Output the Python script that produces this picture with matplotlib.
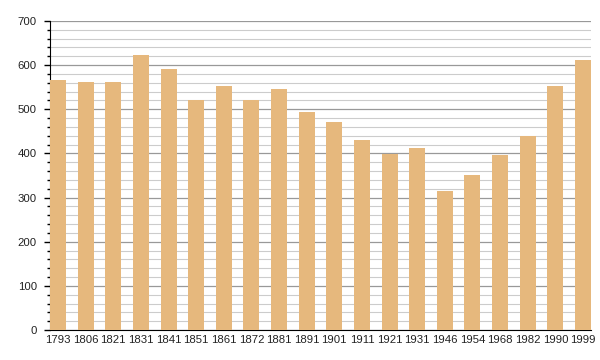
import matplotlib
matplotlib.use('Agg')
import matplotlib.pyplot as plt
from matplotlib.ticker import MultipleLocator

years = ['1793', '1806', '1821', '1831', '1841', '1851', '1861', '1872', '1881', '1891',
         '1901', '1911', '1921', '1931', '1946', '1954', '1968', '1982', '1990', '1999']
population = [566, 562, 562, 623, 591, 520, 553, 521, 546, 494,
              471, 430, 399, 412, 315, 351, 396, 440, 552, 612]

plt.rcParams['font.family'] = ['Liberation Sans', 'DejaVu Sans']

fig = plt.figure(figsize=(6, 3.6), dpi=100)
ax = fig.add_axes([50 / 600, 30 / 360, 541 / 600, 309 / 360])

x = list(range(len(years)))
bar_width = 0.58
ax.bar(x, population, width=bar_width, color='#E6B87D', zorder=3)

ax.set_xlim(-0.29, len(years) - 1 + 0.29)
ax.set_ylim(0, 700)
ax.set_xticks(x)
ax.set_xticklabels(years)
ax.yaxis.set_major_locator(MultipleLocator(100))
ax.yaxis.set_minor_locator(MultipleLocator(20))

ax.grid(axis='y', which='major', color='#999999', linewidth=0.9, zorder=0)
ax.grid(axis='y', which='minor', color='#cccccc', linewidth=0.8, zorder=0)
ax.set_axisbelow(True)

for side in ['top', 'right']:
    ax.spines[side].set_visible(False)
ax.spines['left'].set_color('black')
ax.spines['bottom'].set_color('black')
ax.tick_params(axis='x', length=0, labelsize=8.2, pad=3.5, colors='#222222')
ax.tick_params(axis='y', which='major', length=4.5, width=1, labelsize=8.2, colors='black', pad=5)
ax.tick_params(axis='y', which='minor', length=2.5, width=1)
for lbl in ax.get_yticklabels():
    lbl.set_color('#222222')

fig.savefig('out.png', dpi=100)
